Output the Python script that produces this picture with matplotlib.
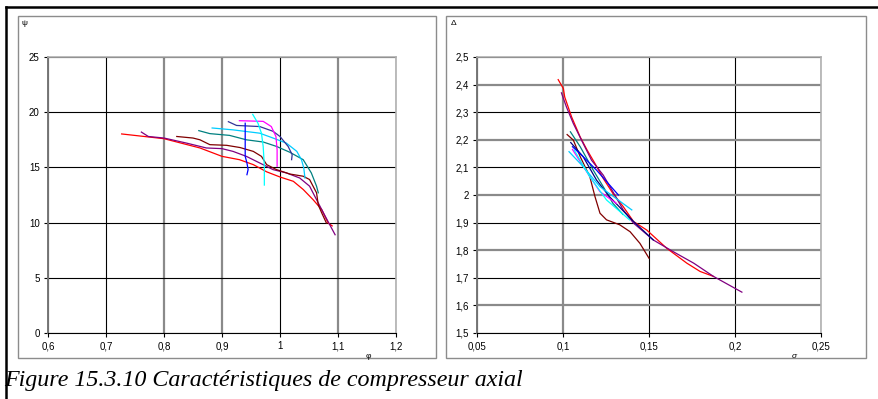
import numpy as np
import matplotlib.pyplot as plt
from matplotlib.patches import Rectangle
from matplotlib.lines import Line2D

# ---- left panel: psi vs phi ----
red_phi = [0.727, 0.80, 0.862, 0.90, 0.93, 0.954, 0.977, 1.0, 1.023, 1.04, 1.057, 1.072, 1.083, 1.09]
red_psi = [18.03, 17.6, 16.76, 16.0, 15.7, 15.25, 14.6, 14.13, 13.74, 13.0, 12.08, 11.17, 9.96, 9.7]
purple_phi = [0.761, 0.773, 0.80, 0.839, 0.873, 0.90, 0.919, 0.942, 0.965, 0.988, 1.011, 1.034, 1.051, 1.063, 1.075, 1.095]
purple_psi = [18.2, 17.8, 17.66, 17.2, 16.76, 16.7, 16.45, 16.0, 15.4, 14.8, 14.5, 14.04, 13.3, 12.08, 10.87, 8.9]
maroon_phi = [0.822, 0.85, 0.862, 0.879, 0.908, 0.931, 0.954, 0.968, 0.977, 0.994, 1.017, 1.04, 1.051, 1.063, 1.066, 1.072, 1.08]
maroon_psi = [17.8, 17.66, 17.5, 17.06, 17.0, 16.8, 16.45, 16.0, 15.25, 14.8, 14.4, 14.2, 13.9, 12.7, 11.6, 10.87, 9.96]
teal_phi = [0.86, 0.879, 0.913, 0.942, 0.971, 0.994, 1.017, 1.04, 1.054, 1.063, 1.066]
teal_psi = [18.33, 18.06, 17.9, 17.5, 17.3, 16.9, 16.37, 15.7, 14.5, 13.3, 12.7]
sky_phi = [0.883, 0.919, 0.965, 0.988, 1.011, 1.029, 1.037, 1.041, 1.043]
sky_psi = [18.57, 18.4, 18.1, 17.66, 17.2, 16.45, 15.7, 14.95, 14.04]
navy_phi = [0.911, 0.925, 0.965, 0.988, 1.0, 1.014, 1.021, 1.02]
navy_psi = [19.14, 18.8, 18.7, 18.27, 17.8, 16.9, 16.15, 15.7]
magenta_phi = [0.93, 0.971, 0.985, 0.993, 0.995, 0.995]
magenta_psi = [19.23, 19.17, 18.7, 17.8, 16.6, 15.1]
blue_phi = [0.94, 0.94, 0.94, 0.943, 0.945, 0.943]
blue_psi = [19.0, 17.5, 16.0, 15.4, 14.8, 14.34]
cyan_phi = [0.953, 0.962, 0.968, 0.971, 0.973, 0.973]
cyan_psi = [19.8, 19.0, 18.1, 16.9, 15.1, 13.4]

# ---- right panel: delta vs sigma ----
red_sig = [0.0972, 0.1002, 0.101, 0.105, 0.11, 0.114, 0.1186, 0.1234, 0.129, 0.135, 0.141, 0.1487, 0.1603, 0.172, 0.1797, 0.1875]
red_del = [2.418, 2.386, 2.355, 2.283, 2.21, 2.163, 2.114, 2.06, 2.006, 1.958, 1.904, 1.873, 1.807, 1.753, 1.723, 1.705]
purple_sig = [0.0991, 0.102, 0.106, 0.1117, 0.1166, 0.1234, 0.129, 0.135, 0.141, 0.1525, 0.164, 0.176, 0.1875, 0.204]
purple_del = [2.37, 2.319, 2.259, 2.187, 2.126, 2.072, 2.012, 1.946, 1.898, 1.837, 1.795, 1.753, 1.705, 1.648]
maroon_sig = [0.1024, 0.106, 0.11, 0.1156, 0.1186, 0.1215, 0.1253, 0.133, 0.139, 0.1447, 0.15]
maroon_del = [2.219, 2.199, 2.139, 2.066, 1.994, 1.934, 1.91, 1.892, 1.867, 1.825, 1.771]
teal_sig = [0.1043, 0.11, 0.1176, 0.1234, 0.129, 0.1348]
teal_del = [2.229, 2.175, 2.09, 2.03, 1.97, 1.93]
navy_sig = [0.1045, 0.1117, 0.1195, 0.127, 0.141, 0.1525]
navy_del = [2.19, 2.139, 2.054, 1.994, 1.904, 1.837]
blue_sig = [0.1055, 0.1117, 0.1195, 0.1322]
blue_del = [2.175, 2.139, 2.09, 2.0]
magenta_sig = [0.1055, 0.1137, 0.1215, 0.131]
magenta_del = [2.165, 2.085, 2.012, 1.97]
sky_sig = [0.1035, 0.1117, 0.1215, 0.14]
sky_del = [2.157, 2.103, 2.03, 1.946]
cyan_sig = [0.1065, 0.1156, 0.1253, 0.1387]
cyan_del = [2.163, 2.066, 1.982, 1.91]

phi_ticks = [0.6, 0.7, 0.8, 0.9, 1.0, 1.1, 1.2]
phi_labels = ['0,6', '0,7', '0,8', '0,9', '1', '1,1', '1,2']
psi_ticks = [0, 5, 10, 15, 20, 25]
sig_ticks = [0.05, 0.1, 0.15, 0.2, 0.25]
sig_labels = ['0,05', '0,1', '0,15', '0,2', '0,25']
del_ticks = [1.5, 1.6, 1.7, 1.8, 1.9, 2.0, 2.1, 2.2, 2.3, 2.4, 2.5]
del_labels = ['1,5', '1,6', '1,7', '1,8', '1,9', '2', '2,1', '2,2', '2,3', '2,4', '2,5']

plt.rcParams['font.family'] = ['Liberation Sans', 'DejaVu Sans']

W, H = 879, 399
fig = plt.figure(figsize=(W / 100, H / 100), dpi=100)

def box(x0, y0, x1, y1):
    return [x0 / W, 1 - y1 / H, (x1 - x0) / W, (y1 - y0) / H]

# outer frame lines and panel boxes
fig.add_artist(Line2D([6 / W, 1], [1 - 7 / H, 1 - 7 / H], color='black', lw=1.8))
fig.add_artist(Line2D([6 / W, 6 / W], [0, 1 - 7 / H], color='black', lw=1.8))
for (x0, x1) in [(18, 436), (446, 866)]:
    fig.add_artist(Rectangle((x0 / W, 1 - 358 / H), (x1 - x0) / W, (358 - 16) / H,
                             fill=False, ec='#8c8c8c', lw=1.0))

def style(ax, xt, xl, yt, yl, xgray, ygray):
    ax.set_xticks(xt)
    ax.set_xticklabels(xl)
    ax.set_yticks(yt)
    ax.set_yticklabels(yl)
    ax.tick_params(labelsize=7, length=3, direction='out', width=0.8, pad=3)
    ax.grid(True, color='black', lw=0.8)
    for i, g in enumerate(ax.xaxis.get_gridlines()):
        if i in xgray:
            g.set_color('#8a8a8a'); g.set_linewidth(1.6)
    for i, g in enumerate(ax.yaxis.get_gridlines()):
        if i in ygray:
            g.set_color('#8a8a8a'); g.set_linewidth(1.6)
    for s in ['top', 'right']:
        ax.spines[s].set_color('#b0b0b0')
        ax.spines[s].set_linewidth(1.2)
    ax.spines['bottom'].set_color('black')
    ax.spines['left'].set_color('#777777')
    ax.spines['left'].set_linewidth(1.4)
    ax.set_axisbelow(True)

lw = 0.9
ax1 = fig.add_axes(box(48, 57, 396, 333))
ax1.plot(red_phi, red_psi, color='#FF0000', lw=lw)
ax1.plot(purple_phi, purple_psi, color='#800080', lw=lw)
ax1.plot(maroon_phi, maroon_psi, color='#800000', lw=lw)
ax1.plot(teal_phi, teal_psi, color='#008080', lw=lw)
ax1.plot(sky_phi, sky_psi, color='#00CCFF', lw=lw)
ax1.plot(navy_phi, navy_psi, color='#333399', lw=lw)
ax1.plot(magenta_phi, magenta_psi, color='#FF00FF', lw=lw)
ax1.plot(blue_phi, blue_psi, color='#0000FF', lw=lw)
ax1.plot(cyan_phi, cyan_psi, color='#00FFFF', lw=lw)
ax1.set_xlim(0.6, 1.2)
ax1.set_ylim(0, 25)
style(ax1, phi_ticks, phi_labels, psi_ticks, [str(v) for v in psi_ticks], {2, 3, 5}, set())

ax2 = fig.add_axes(box(477, 57, 821, 333))
ax2.plot(red_sig, red_del, color='#FF0000', lw=lw)
ax2.plot(purple_sig, purple_del, color='#800080', lw=lw)
ax2.plot(maroon_sig, maroon_del, color='#800000', lw=lw)
ax2.plot(teal_sig, teal_del, color='#008080', lw=lw)
ax2.plot(navy_sig, navy_del, color='#000080', lw=lw)
ax2.plot(blue_sig, blue_del, color='#0000FF', lw=lw)
ax2.plot(magenta_sig, magenta_del, color='#FF00FF', lw=lw)
ax2.plot(sky_sig, sky_del, color='#00CCFF', lw=lw)
ax2.plot(cyan_sig, cyan_del, color='#00FFFF', lw=lw)
ax2.set_xlim(0.05, 0.25)
ax2.set_ylim(1.5, 2.5)
style(ax2, sig_ticks, sig_labels, del_ticks, del_labels, {1}, {1, 3, 5, 7, 9})

# axis symbols
fig.text(22 / W, 1 - 25 / H, 'ψ', fontsize=6, va='baseline')
fig.text(366 / W, 1 - 358 / H, 'φ', fontsize=6, va='baseline')
fig.text(451 / W, 1 - 25 / H, 'Δ', fontsize=6, va='baseline')
fig.text(792 / W, 1 - 358 / H, 'σ', fontsize=6, va='baseline', style='italic')

fig.text(4 / W, 1 - 386 / H, 'Figure 15.3.10 Caractéristiques de compresseur axial',
         family=['Liberation Serif'], style='italic', fontsize=17.3, va='baseline')

fig.savefig('out.png', dpi=100)
